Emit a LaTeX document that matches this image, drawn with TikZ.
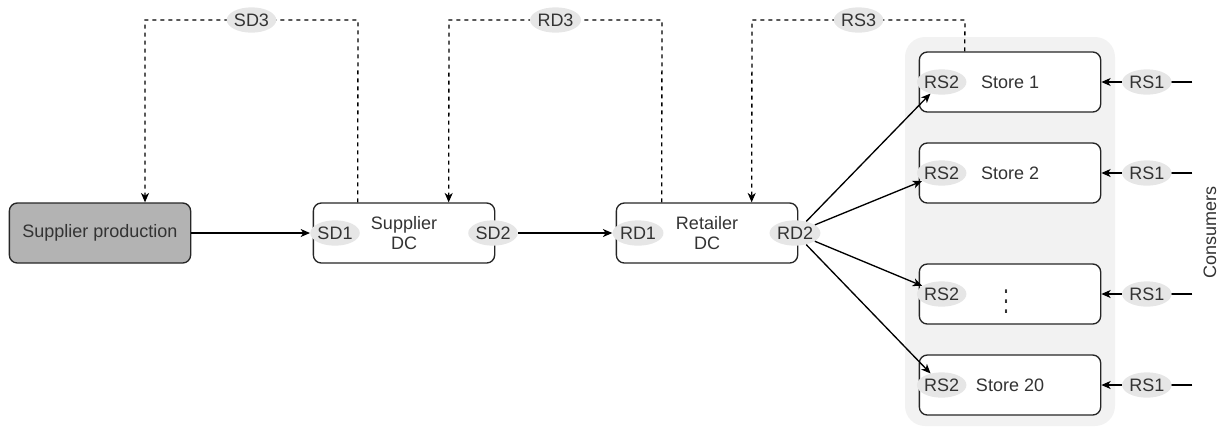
\documentclass[tikz,border=0pt]{standalone}
\usepackage{fontspec}
\setmainfont{Liberation Sans}
\usetikzlibrary{shapes.geometric, positioning, calc, arrows.meta}

\definecolor{prodgray}{HTML}{B3B3B3}
\definecolor{taggray}{HTML}{E6E6E6}
\definecolor{zonegray}{HTML}{F2F2F2}
\definecolor{inkgray}{HTML}{333333}

\begin{document}
\begin{tikzpicture}[x=0.75pt, y=-0.75pt,
    box/.style={rectangle, rounded corners=6pt, draw=black!85, fill=white, line width=1pt,
        minimum width=136pt, minimum height=45pt, font=\fontsize{13.5}{15.5}\selectfont,
        text=inkgray, align=center},
    tag/.style={ellipse, fill=taggray, inner sep=0pt, minimum width=31pt,
        minimum height=19pt, font=\fontsize{13.5}{15.5}\selectfont, text=inkgray},
    ar/.style={->, >={Stealth[length=7pt, width=6pt, inset=2pt]}, line width=1pt},
    dsh/.style={ar, dash pattern=on 3pt off 3pt}]
\useasboundingbox (0,0) rectangle (1219,426);
% store zone
\fill[zonegray, rounded corners=15pt] (905,37) rectangle (1115,426);
% chain
\node[box, fill=prodgray] (SP) at (100,233) {Supplier production};
\node[box] (SDC) at (404,233) {Supplier\\DC};
\node[tag] (SD1) at (335,233) {SD1};
\node[tag] (SD2) at (493,233) {SD2};
\node[box] (RDC) at (707,233) {Retailer\\DC};
\node[tag] (RD1) at (638,233) {RD1};
\node[tag] (RD2) at (795,233) {RD2};
% stores
\node[box] (S1) at (1010,82) {Store 1};
\node[box] (S2) at (1010,173) {Store 2};
\node[box] (S3) at (1010,294) {\hspace{-6pt}\scalebox{1.2}[1.9]{$\vdots$}};
\node[box] (S20) at (1010,385) {Store 20};
\foreach \s in {S1,S2,S3,S20} {
    \node[tag] (in\s) at ($(\s.west)+(23,0)$) {RS2};
    \coordinate (c\s) at ($(\s.east)+(91,0)$);
    \draw[ar] (c\s) -- node[tag] (out\s) {RS1} (\s.east);
    \draw[ar] (RD2) -- (in\s);
}
\node[rotate=90, font=\fontsize{13.5}{15.5}\selectfont, text=inkgray] (CON) at (1210,232) {Consumers};
% flows
\draw[ar] (SP) -- (SD1);
\draw[ar] (SD2) -- (RD1);
% orders
\draw[dsh] ($(SDC.north west)+(45,0)$) -- (358,20) -- node[tag] (SD3) {SD3} (145,20)
    -- ($(SP.north)+(45,0)$);
\draw[dsh] ($(RDC.north west)+(46,0)$) -- (662,20) -- node[tag] (RD3) {RD3} (449,20)
    -- ($(SDC.north west)+(136,0)$);
\draw[dsh] ($(S1.north west)+(46,0)$) -- (965,20) -- node[tag] (RS3) {RS3} (752,20)
    -- ($(RDC.north west)+(136,0)$);
\end{tikzpicture}
\end{document}
